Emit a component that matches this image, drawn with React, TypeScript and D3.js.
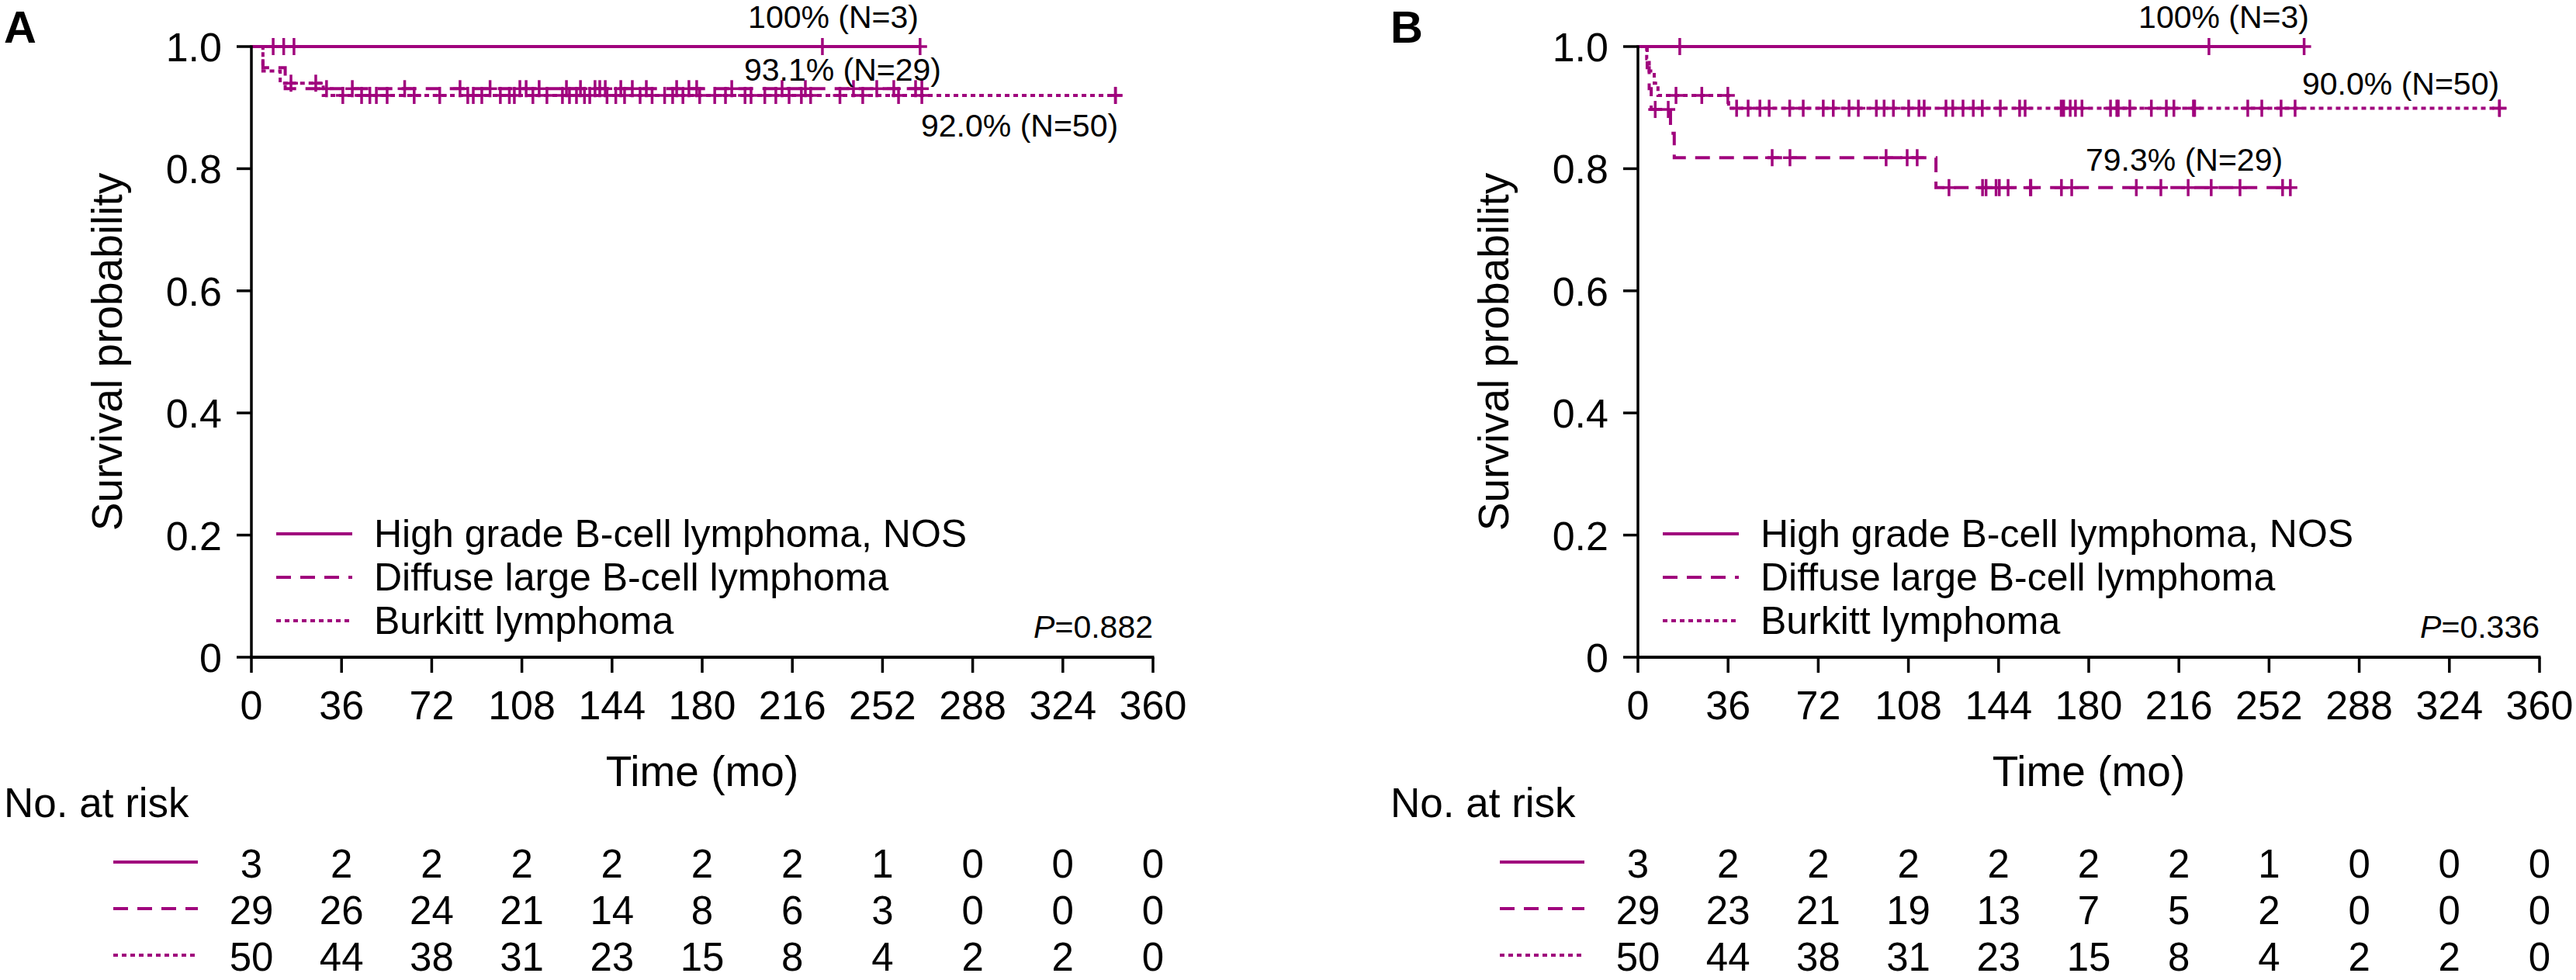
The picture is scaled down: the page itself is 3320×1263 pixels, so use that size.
import React from "react";
import * as d3 from "d3";

// ---------- data ----------
const timeTicks = [0, 36, 72, 108, 144, 180, 216, 252, 288, 324, 360];
const probTicks = [0, 0.2, 0.4, 0.6, 0.8, 1.0];
const probTickLabels = ["0", "0.2", "0.4", "0.6", "0.8", "1.0"];
const seriesNames = ["High grade B-cell lymphoma, NOS", "Diffuse large B-cell lymphoma", "Burkitt lymphoma"];

// Panel A: step points [time, survival], censor times, last follow-up
const hgA_steps: [number, number][] = [[0, 1]];
const hgA_censor = [8.7, 12.9, 17.0, 228, 267];
const hgA_end = 267;
const dlA_steps: [number, number][] = [[0, 1], [4.6, 0.9655], [13.5, 0.931]];
const dlA_censor = [30, 40.3, 61.2, 83.3, 95.3, 107.2, 109.7, 114.9, 125.8, 131.4, 137.2, 139.1, 141.3,
  147.5, 152.1, 157.7, 169.8, 174.7, 177.8, 191.8, 211.9, 221.2, 240.4, 249.7, 256.5, 265.2, 267.7];
const dlA_end = 267.7;
const buA_steps: [number, number][] = [[0, 1], [4.6, 0.96], [11.5, 0.94], [28.7, 0.92]];
const buA_censor = [15.8, 25.7, 36.5, 44, 47.3, 49.9, 54.2, 65, 75.2, 86.4, 88.6, 92, 99.4, 103, 105,
  112.4, 118, 124.2, 127, 129.8, 133, 135.1, 142, 145.5, 149, 155.2, 160, 165, 168.2, 172.3, 179,
  185, 189.3, 197.1, 199.5, 205, 209.4, 214.7, 219.6, 223.3, 235, 244.1, 258.4, 267.7, 345, 345];
const buA_end = 345;

// Panel B
const hgB_steps: [number, number][] = [[0, 1]];
const hgB_censor = [16.7, 228, 266];
const hgB_end = 266;
const dlB_steps: [number, number][] = [[0, 1], [3.7, 0.9655], [4.5, 0.931], [5.3, 0.897], [13, 0.858], [14.5, 0.818], [119, 0.769]];
const dlB_censor = [6.9, 12.1, 53.6, 60.7, 99.1, 107.5, 111.5, 124.2, 137.6, 139, 143, 144.3, 147.8, 156.7, 156.9,
  169.1, 173.2, 199, 208.8, 219.7, 228.9, 240.4, 257.4, 260.5];
const dlB_end = 260.5;
const buB_steps: [number, number][] = [[0, 1], [3.5, 0.98], [4.5, 0.96], [6.5, 0.94], [8, 0.92], [36.2, 0.899]];
const buB_censor = [15.2, 25.5, 35.9, 39.4, 44, 48.7, 52.4, 60.6, 66, 74, 78, 84.3, 88, 95.2, 98.3, 102,
  108.1, 112.2, 114.3, 123, 125.7, 129.8, 133.9, 137.5, 144.7, 152.4, 154.6, 169, 170, 172.6, 174.7, 177.3,
  188.7, 191.2, 191.8, 196.4, 205, 211, 214, 221.8, 222.3, 243.5, 249.1, 256.8, 262.4, 344, 344];
const buB_end = 344;

// Number at risk
const riskA_hg = [3, 2, 2, 2, 2, 2, 2, 1, 0, 0, 0];
const riskA_dl = [29, 26, 24, 21, 14, 8, 6, 3, 0, 0, 0];
const riskA_bu = [50, 44, 38, 31, 23, 15, 8, 4, 2, 2, 0];
const riskB_hg = [3, 2, 2, 2, 2, 2, 2, 1, 0, 0, 0];
const riskB_dl = [29, 23, 21, 19, 13, 7, 5, 2, 0, 0, 0];
const riskB_bu = [50, 44, 38, 31, 23, 15, 8, 4, 2, 2, 0];

// ---------- style ----------
const COLOR = "#A0047D";
const FONT = "'Liberation Sans', Arial, Helvetica, sans-serif";
const DASHES = [null, "19 12", "6 5"];

type Series = { steps: [number, number][]; censor: number[]; end: number };

function survAt(steps: [number, number][], t: number) {
  let s = steps[0][1];
  for (const [st, sv] of steps) if (st <= t) s = sv;
  return s;
}

function Panel({ ox, label, series, risk, pText, notes }: {
  ox: number; label: string; series: Series[]; risk: number[][]; pText: string;
  notes: { text: string; x: number; y: number; anchor: string }[];
}) {
  const x = d3.scaleLinear().domain([0, 360]).range([324 + ox, 1486 + ox]);
  const y = d3.scaleLinear().domain([0, 1]).range([847, 60]);
  const line = d3.line<[number, number]>().x(d => x(d[0])).y(d => y(d[1])).curve(d3.curveStepAfter);
  const x0 = x(0), x1 = x(360);
  return (
    <g fontFamily={FONT}>
      <text x={5 + ox} y={55} fontSize={58} fontWeight="bold">{label}</text>
      {/* curves */}
      {series.map((s, i) => {
        const pts: [number, number][] = [...s.steps, [s.end, s.steps[s.steps.length - 1][1]]];
        return (
          <g key={i}>
            <path d={line(pts) || ""} fill="none" stroke={COLOR} strokeWidth={4}
              strokeDasharray={DASHES[i] || undefined} />
            {s.censor.map((c, j) => {
              const cx = x(c), cy = y(survAt(s.steps, c));
              return (
                <g key={j} stroke={COLOR} strokeWidth={3.5}>
                  <line x1={cx} x2={cx} y1={cy - 11} y2={cy + 11} />
                  <line x1={cx - 9} x2={cx + 9} y1={cy} y2={cy} />
                </g>
              );
            })}
          </g>
        );
      })}
      {/* axes */}
      <line x1={x0} x2={x0} y1={y(1) - 1.5} y2={y(0)} stroke="#000" strokeWidth={3.5} />
      <line x1={x0 - 2} x2={x1 + 1.5} y1={y(0)} y2={y(0)} stroke="#000" strokeWidth={4} />
      {probTicks.map((v, i) => (
        <g key={i}>
          <line x1={x0 - 19} x2={x0} y1={y(v)} y2={y(v)} stroke="#000" strokeWidth={3.5} />
          <text x={x0 - 38} y={y(v) + 19} fontSize={52} textAnchor="end">{probTickLabels[i]}</text>
        </g>
      ))}
      {timeTicks.map((t, i) => (
        <g key={i}>
          <line x1={x(t)} x2={x(t)} y1={y(0)} y2={y(0) + 20} stroke="#000" strokeWidth={3.5} />
          <text x={x(t)} y={927} fontSize={52} textAnchor="middle">{t}</text>
        </g>
      ))}
      <text x={(x0 + x1) / 2} y={1013} fontSize={55} textAnchor="middle">Time (mo)</text>
      <text transform={`translate(${157 + ox},${(y(0) + y(1)) / 2}) rotate(-90)`} fontSize={55} textAnchor="middle">Survival probability</text>
      {/* legend */}
      {seriesNames.map((n, i) => (
        <g key={i}>
          <line x1={356 + ox} x2={454 + ox} y1={688 + i * 56} y2={688 + i * 56} stroke={COLOR} strokeWidth={4}
            strokeDasharray={DASHES[i] || undefined} />
          <text x={482 + ox} y={705 + i * 56} fontSize={50}>{n}</text>
        </g>
      ))}
      <text x={x1} y={822} fontSize={41} textAnchor="end"><tspan fontStyle="italic">P</tspan>{pText}</text>
      {notes.map((n, i) => (
        <text key={i} x={n.x + ox} y={n.y} fontSize={41} textAnchor={n.anchor}>{n.text}</text>
      ))}
      {/* number at risk */}
      <text x={5 + ox} y={1053} fontSize={53}>No. at risk</text>
      {risk.map((row, r) => (
        <g key={r}>
          <line x1={146 + ox} x2={255 + ox} y1={1111 + r * 60} y2={1111 + r * 60} stroke={COLOR} strokeWidth={4}
            strokeDasharray={DASHES[r] || undefined} />
          {row.map((v, k) => (
            <text key={k} x={x(timeTicks[k])} y={1131 + r * 60} fontSize={51} textAnchor="middle">{v}</text>
          ))}
        </g>
      ))}
    </g>
  );
}

export default function App() {
  const seriesA: Series[] = [
    { steps: hgA_steps, censor: hgA_censor, end: hgA_end },
    { steps: dlA_steps, censor: dlA_censor, end: dlA_end },
    { steps: buA_steps, censor: buA_censor, end: buA_end },
  ];
  const seriesB: Series[] = [
    { steps: hgB_steps, censor: hgB_censor, end: hgB_end },
    { steps: dlB_steps, censor: dlB_censor, end: dlB_end },
    { steps: buB_steps, censor: buB_censor, end: buB_end },
  ];
  return (
    <svg width={3320} height={1263} style={{ position: "absolute", left: 0, top: 0, background: "#fff" }}>
      <rect width={3320} height={1263} fill="#fff" />
      <Panel ox={0} label="A" series={seriesA} risk={[riskA_hg, riskA_dl, riskA_bu]} pText="=0.882"
        notes={[
          { text: "100% (N=3)", x: 1184, y: 36, anchor: "end" },
          { text: "93.1% (N=29)", x: 1213, y: 104, anchor: "end" },
          { text: "92.0% (N=50)", x: 1187, y: 176, anchor: "start" },
        ]} />
      <Panel ox={1787} label="B" series={seriesB} risk={[riskB_hg, riskB_dl, riskB_bu]} pText="=0.336"
        notes={[
          { text: "100% (N=3)", x: 2976 - 1787, y: 36, anchor: "end" },
          { text: "90.0% (N=50)", x: 2967 - 1787, y: 122, anchor: "start" },
          { text: "79.3% (N=29)", x: 2688 - 1787, y: 220, anchor: "start" },
        ]} />
    </svg>
  );
}
